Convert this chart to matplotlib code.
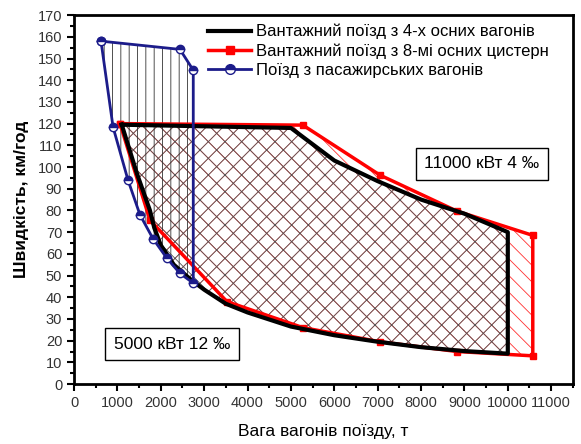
import matplotlib.pyplot as plt
from matplotlib.patches import Polygon
from matplotlib.ticker import MultipleLocator
from matplotlib.lines import Line2D

plt.rcParams['font.family'] = ['Liberation Sans', 'DejaVu Sans']
plt.rcParams['hatch.linewidth'] = 0.6

# Вантажний поїзд з 4-х осних вагонів (чорний)
black_x = [1100, 5000, 6000, 7000, 8000, 9000, 10000, 10000, 9000, 8000, 7000,
           6000, 5000, 4000, 3500, 3000, 2700, 2300, 2000, 1850, 1750, 1450, 1100]
black_y = [119.5, 118, 103, 93.5, 85, 78.5, 70, 14, 15.2, 17, 19.5,
           22.5, 26.5, 33, 37, 43.5, 48, 55, 64, 72, 80, 97, 119.5]

# Вантажний поїзд з 8-мі осних цистерн (червоний)
red_x = [1060, 5276, 7050, 8825, 10576, 10576, 8825, 7050, 5276, 3525, 1751, 1060]
red_y = [120, 119.3, 96.3, 79.7, 68.5, 13, 15, 19.5, 26, 38, 75.5, 120]

# Поїзд з пасажирських вагонів (синій)
blue_x = [622, 2442, 2749, 2749, 2442, 2140, 1820, 1520, 1244, 900, 622]
blue_y = [158, 154.2, 144.6, 46.5, 51, 58, 67, 78, 94, 118.4, 158]

labels = ['Вантажний поїзд з 4-х осних вагонів',
          'Вантажний поїзд з 8-мі осних цистерн',
          'Поїзд з пасажирських вагонів']

navy = '#1c1c8a'

fig = plt.figure(figsize=(5.81, 4.44), dpi=100)
ax = fig.add_axes([0.1274, 0.135, 0.8586, 0.831])

# заливки штрихуванням
ax.add_patch(Polygon(list(zip(red_x, red_y)), closed=True, facecolor='none',
                     edgecolor='#ff3030', hatch='\\\\', linewidth=0, zorder=1))
ax.add_patch(Polygon(list(zip(black_x, black_y)), closed=True, facecolor='none',
                     edgecolor='#ff6060', hatch='//', linewidth=0, zorder=1))
ax.add_patch(Polygon(list(zip(black_x, black_y)), closed=True, facecolor='none',
                     edgecolor='#555555', hatch='xx', linewidth=0, zorder=1.5))
ax.add_patch(Polygon(list(zip(blue_x, blue_y)), closed=True, facecolor='none',
                     edgecolor='#333333', hatch='||', linewidth=0, zorder=1.6))

ax.plot(red_x, red_y, color='red', lw=2.5, marker='s', ms=5, zorder=3)
ax.plot(black_x, black_y, color='black', lw=3, zorder=4)
ax.plot(blue_x, blue_y, color=navy, lw=2, marker='o', ms=6,
        fillstyle='top', markerfacecolor=navy, markerfacecoloralt='white',
        markeredgecolor=navy, markeredgewidth=1, zorder=5)

ax.set_xlim(0, 11500)
ax.set_ylim(0, 170)
ax.xaxis.set_major_locator(MultipleLocator(1000))
ax.xaxis.set_minor_locator(MultipleLocator(500))
ax.yaxis.set_major_locator(MultipleLocator(10))
ax.yaxis.set_minor_locator(MultipleLocator(5))
ax.tick_params(which='major', direction='out', length=5, width=1.5,
               labelsize=10.5, labelcolor='#333333')
ax.tick_params(which='minor', direction='out', length=3, width=1.5)
for s in ax.spines.values():
    s.set_linewidth(2)

ax.set_xlabel('Вага вагонів поїзду, т', fontsize=12.5, labelpad=10)
ax.set_ylabel('Швидкість, км/год', fontsize=12.5, fontweight='bold', labelpad=6)

handles = [
    Line2D([], [], color='black', lw=3),
    Line2D([], [], color='red', lw=2.5, marker='s', ms=6),
    Line2D([], [], color=navy, lw=2, marker='o', ms=7, fillstyle='top',
           markerfacecolor=navy, markerfacecoloralt='white', markeredgecolor=navy),
]
ax.legend(handles, labels, loc='upper left', bbox_to_anchor=(0.262, 0.985),
          frameon=False, fontsize=12, handlelength=2.6, handletextpad=0.3,
          labelspacing=0.25, borderpad=0.2, borderaxespad=0)

box = dict(boxstyle='square,pad=0.5', facecolor='white', edgecolor='black', linewidth=1)
ax.text(9400, 101.5, '11000 кВт 4 ‰', fontsize=12.5, ha='center', va='center',
        bbox=box, zorder=6)
ax.text(2258, 18.4, '5000 кВт 12 ‰', fontsize=12.5, ha='center', va='center',
        bbox=box, zorder=6)

fig.savefig('out.png', dpi=100)
